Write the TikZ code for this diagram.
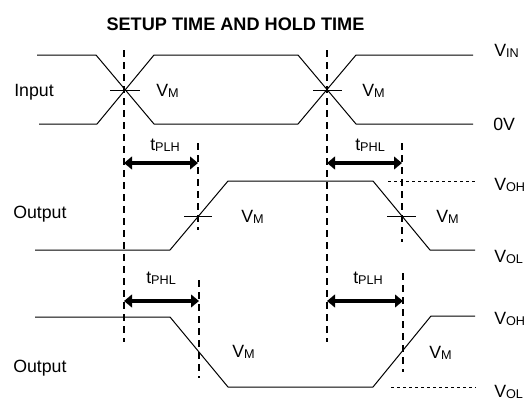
\documentclass[tikz,border=0pt]{standalone}
\usepackage{fontspec}
\setmainfont{Liberation Sans}
\usetikzlibrary{arrows.meta}
\newcommand{\sbs}[1]{\raisebox{-1pt}{\fontsize{9.5}{10}\selectfont #1}}
\begin{document}
\begin{tikzpicture}[x=0.75pt,y=-0.75pt,
  wave/.style={line width=0.75pt,line join=miter},
  tick/.style={line width=0.75pt},
  guide/.style={line width=1.1pt,dash pattern=on 5.5pt off 3.5pt},
  refline/.style={line width=0.75pt,dash pattern=on 2.5pt off 2pt},
  dimarrow/.style={line width=3pt,{Triangle[length=6pt,width=9.5pt]}-{Triangle[length=6pt,width=9.5pt]}},
  lbl/.style={inner sep=0pt,anchor=base west,font=\fontsize{13.3}{15}\selectfont},
  ttl/.style={inner sep=0pt,anchor=base,font=\fontsize{13.6}{15}\selectfont\bfseries}]
\useasboundingbox (0,0) rectangle (526,405);
% title
\node[ttl] (title) at (235.5,30) {SETUP TIME AND HOLD TIME};
% input waveforms
\draw[wave] (37,55) -- (96,55) -- (154,124) -- (298,124) -- (356,55) -- (473,55);
\draw[wave] (39,124) -- (97,124) -- (154,55) -- (298,55) -- (356,124) -- (473,124);
\draw[tick] (110,90) -- (140,90);
\draw[tick] (313,90) -- (342,90);
% output 1
\draw[wave] (35,250) -- (170,250) -- (228,181) -- (373,181) -- (430,250) -- (475,250);
\draw[tick] (184,216) -- (212,216);
\draw[tick] (387,216) -- (416,216);
\draw[refline] (388,181) -- (475,181);
% output 2
\draw[wave] (35,317) -- (170,317) -- (228,387) -- (373,387) -- (431,316) -- (475,316);
\draw[refline] (391,387) -- (476,387);
% guide lines
\coordinate (g1t) at (124,50);  \coordinate (g1b) at (124,342);
\coordinate (g2t) at (327,50);  \coordinate (g2b) at (327,342);
\coordinate (g3t) at (198,143); \coordinate (g3b) at (198,230);
\coordinate (g4t) at (402,143); \coordinate (g4b) at (402,242);
\coordinate (g5t) at (199,280); \coordinate (g5b) at (199,378);
\coordinate (g6t) at (403,273); \coordinate (g6b) at (403,372);
\draw[guide] (g1t) -- (g1b);
\draw[guide] (g2t) -- (g2b);
\draw[guide] (g3t) -- (g3b);
\draw[guide] (g4t) -- (g4b);
\draw[guide] (g5t) -- (g5b);
\draw[guide] (g6t) -- (g6b);
% dimension arrows
\coordinate (a1l) at (124,163); \coordinate (a1r) at (198,163);
\coordinate (a2l) at (327,163); \coordinate (a2r) at (402,163);
\coordinate (a3l) at (124,301); \coordinate (a3r) at (199,301);
\coordinate (a4l) at (327,301); \coordinate (a4r) at (403,301);
\draw[dimarrow] (a1l) -- (a1r);
\draw[dimarrow] (a2l) -- (a2r);
\draw[dimarrow] (a3l) -- (a3r);
\draw[dimarrow] (a4l) -- (a4r);
% labels
\node[lbl] (in) at (14,96) {Input};
\node[lbl] (vm1) at (156,96) {V\sbs{M}};
\node[lbl] (vm2) at (362,96) {V\sbs{M}};
\node[lbl] (vin) at (494,56) {V\sbs{IN}};
\node[lbl] (zero) at (493,130) {0V};
\node[lbl] (t1) at (150,150) {t\sbs{PLH}};
\node[lbl] (t2) at (355,150) {t\sbs{PHL}};
\node[lbl] (out1) at (13,218) {Output};
\node[lbl] (vm3) at (241,222) {V\sbs{M}};
\node[lbl] (vm4) at (436,222) {V\sbs{M}};
\node[lbl] (voh1) at (494,190) {V\sbs{OH}};
\node[lbl] (vol1) at (494,262) {V\sbs{OL}};
\node[lbl] (t3) at (146,283) {t\sbs{PHL}};
\node[lbl] (t4) at (353,283) {t\sbs{PLH}};
\node[lbl] (out2) at (13,372) {Output};
\node[lbl] (vm5) at (232,357) {V\sbs{M}};
\node[lbl] (vm6) at (429,358) {V\sbs{M}};
\node[lbl] (voh2) at (494,324) {V\sbs{OH}};
\node[lbl] (vol2) at (494,397) {V\sbs{OL}};
\end{tikzpicture}
\end{document}
